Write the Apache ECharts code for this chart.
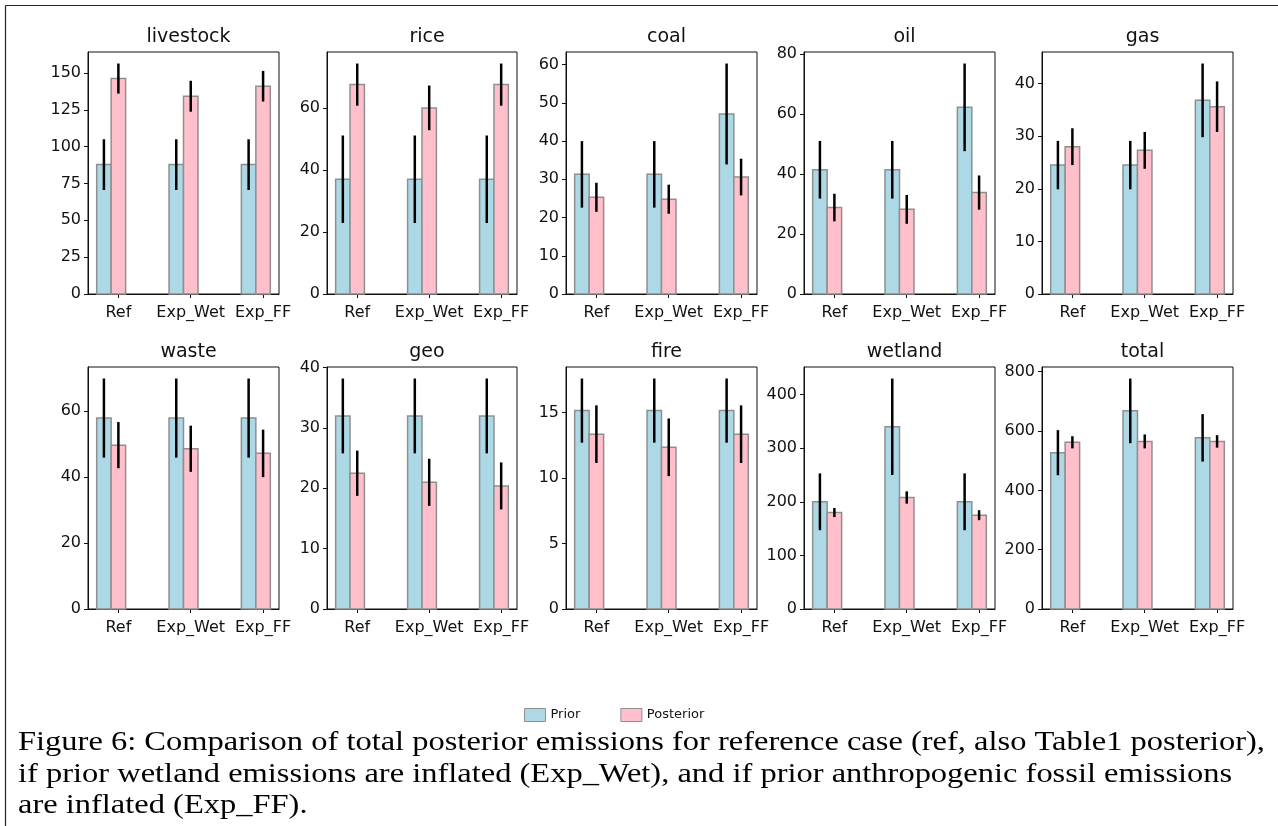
<!DOCTYPE html>
<html><head><meta charset="utf-8">
<script src="https://cdn.jsdelivr.net/npm/echarts@6/dist/echarts.min.js"></script>
<style>html,body{margin:0;padding:0;background:#fff}#c{width:1278px;height:826px}</style>
</head><body><div id="c"></div>
<script>
// ---- data ----
const categories = ['Ref', 'Exp_Wet', 'Exp_FF'];
const sectors = ['livestock', 'rice', 'coal', 'oil', 'gas', 'waste', 'geo', 'fire', 'wetland', 'total'];

const livestockPrior = [87.8, 87.8, 87.8];   const livestockPriorErr = [17.2, 17.2, 17.2];
const livestockPost  = [146.2, 134.2, 141.0]; const livestockPostErr  = [10.2, 10.5, 10.4];
const ricePrior = [37.0, 37.0, 37.0];         const ricePriorErr = [14.1, 14.1, 14.1];
const ricePost  = [67.5, 60.0, 67.5];         const ricePostErr  = [6.8, 7.2, 6.8];
const coalPrior = [31.3, 31.3, 47.1];         const coalPriorErr = [8.7, 8.7, 13.2];
const coalPost  = [25.3, 24.8, 30.6];         const coalPostErr  = [3.8, 3.8, 4.8];
const oilPrior = [41.4, 41.4, 62.2];          const oilPriorErr = [9.6, 9.6, 14.6];
const oilPost  = [28.8, 28.2, 33.8];          const oilPostErr  = [4.6, 4.8, 5.7];
const gasPrior = [24.5, 24.5, 36.8];          const gasPriorErr = [4.6, 4.6, 7.0];
const gasPost  = [28.0, 27.3, 35.6];          const gasPostErr  = [3.5, 3.5, 4.8];
const wastePrior = [57.9, 57.9, 57.9];        const wastePriorErr = [12.0, 12.0, 12.0];
const wastePost  = [49.7, 48.6, 47.2];        const wastePostErr  = [7.0, 7.0, 7.2];
const geoPrior = [32.0, 32.0, 32.0];          const geoPriorErr = [6.2, 6.2, 6.2];
const geoPost  = [22.5, 21.0, 20.4];          const geoPostErr  = [3.75, 3.9, 3.9];
const firePrior = [15.15, 15.15, 15.15];      const firePriorErr = [2.45, 2.45, 2.45];
const firePost  = [13.35, 12.35, 13.35];      const firePostErr  = [2.2, 2.2, 2.2];
const wetlandPrior = [200, 340, 200];         const wetlandPriorErr = [53, 90, 53];
const wetlandPost  = [180, 208, 175];         const wetlandPostErr  = [8.5, 11.5, 9.3];
const totalPrior = [527, 668, 577];           const totalPriorErr = [76, 109, 80];
const totalPost  = [562, 565, 565];           const totalPostErr  = [20.5, 23.5, 21];

const livestockTicks = [0, 25, 50, 75, 100, 125, 150];
const riceTicks = [0, 20, 40, 60];
const coalTicks = [0, 10, 20, 30, 40, 50, 60];
const oilTicks = [0, 20, 40, 60, 80];
const gasTicks = [0, 10, 20, 30, 40];
const wasteTicks = [0, 20, 40, 60];
const geoTicks = [0, 10, 20, 30, 40];
const fireTicks = [0, 5, 10, 15];
const wetlandTicks = [0, 100, 200, 300, 400];
const totalTicks = [0, 200, 400, 600, 800];

const captionLines = [
  'Figure 6: Comparison of total posterior emissions for reference case (ref, also Table1 posterior),',
  'if prior wetland emissions are inflated (Exp_Wet), and if prior anthropogenic fossil emissions',
  'are inflated (Exp_FF).'
];

// ---- build ----
const table = {
  livestock: [livestockPrior, livestockPriorErr, livestockPost, livestockPostErr, livestockTicks],
  rice: [ricePrior, ricePriorErr, ricePost, ricePostErr, riceTicks],
  coal: [coalPrior, coalPriorErr, coalPost, coalPostErr, coalTicks],
  oil: [oilPrior, oilPriorErr, oilPost, oilPostErr, oilTicks],
  gas: [gasPrior, gasPriorErr, gasPost, gasPostErr, gasTicks],
  waste: [wastePrior, wastePriorErr, wastePost, wastePostErr, wasteTicks],
  geo: [geoPrior, geoPriorErr, geoPost, geoPostErr, geoTicks],
  fire: [firePrior, firePriorErr, firePost, firePostErr, fireTicks],
  wetland: [wetlandPrior, wetlandPriorErr, wetlandPost, wetlandPostErr, wetlandTicks],
  total: [totalPrior, totalPriorErr, totalPost, totalPostErr, totalTicks]
};

const lefts = [88, 327, 566, 804, 1042];
const widths = [191, 190, 191, 191, 191];
const tops = [52, 367];
const H = 242;
const FONT = 'DejaVu Sans';
const PRIOR_COLOR = '#ADD8E6', POST_COLOR = '#FFC0CB';

function makeRender(offset) {
  return function (params, api) {
    const x = api.value(0), v = api.value(1), e = api.value(2);
    const p0 = api.coord([x + offset - 0.1, 0]);
    const p1 = api.coord([x + offset + 0.1, v]);
    const t = api.coord([x + offset, v + e]);
    const b = api.coord([x + offset, v - e]);
    return {
      type: 'group',
      children: [
        { type: 'rect', shape: { x: p0[0], y: p1[1], width: p1[0] - p0[0], height: p0[1] - p1[1] },
          style: { fill: api.visual('color'), stroke: '#8f8f8f', lineWidth: 1.5 } },
        { type: 'line', shape: { x1: t[0], y1: t[1], x2: b[0], y2: b[1] },
          style: { stroke: '#000', lineWidth: 2.5 }, z2: 10 }
      ]
    };
  };
}

const grid = [], xAxis = [], yAxis = [], series = [], title = [];
sectors.forEach(function (name, i) {
  const r = Math.floor(i / 5), c = i % 5;
  const d = table[name];
  const prior = d[0], pe = d[1], post = d[2], poe = d[3], ticks = d[4];
  let top = 0;
  for (let k = 0; k < 3; k++) top = Math.max(top, prior[k] + pe[k], post[k] + poe[k]);
  grid.push({ left: lefts[c], top: tops[r], width: widths[c], height: H, show: true,
    borderColor: '#111', borderWidth: 1, backgroundColor: 'transparent' });
  xAxis.push({ type: 'value', gridIndex: i, min: -0.42, max: 2.22,
    splitLine: { show: false },
    axisLine: { show: true, onZero: false, lineStyle: { color: '#111', width: 1 } },
    axisTick: { show: true, length: 4, customValues: [0, 1, 2], lineStyle: { color: '#111' } },
    axisLabel: { customValues: [0, 1, 2], margin: 11, color: '#111', fontFamily: FONT, fontSize: 16,
      formatter: function (v) { return categories[Math.round(v)]; } } });
  yAxis.push({ type: 'value', gridIndex: i, min: 0, max: top * 1.05,
    splitLine: { show: false },
    axisLine: { show: true, onZero: false, lineStyle: { color: '#111', width: 1 } },
    axisTick: { show: true, length: 4, customValues: ticks, lineStyle: { color: '#111' } },
    axisLabel: { customValues: ticks, margin: 7, color: '#111', fontFamily: FONT, fontSize: 16,
      formatter: function (v) { return String(v); } } });
  title.push({ text: name, left: lefts[c] + widths[c] / 2, top: r === 0 ? 23 : 338, textAlign: 'center',
    textStyle: { fontFamily: FONT, fontSize: 19, fontWeight: 'normal', color: '#111' } });
  series.push({ type: 'custom', name: 'Prior', xAxisIndex: i, yAxisIndex: i,
    itemStyle: { color: PRIOR_COLOR, borderColor: '#8f8f8f', borderWidth: 1 },
    renderItem: makeRender(-0.2),
    data: categories.map(function (_, k) { return [k, prior[k], pe[k]]; }) });
  series.push({ type: 'custom', name: 'Posterior', xAxisIndex: i, yAxisIndex: i,
    itemStyle: { color: POST_COLOR, borderColor: '#8f8f8f', borderWidth: 1 },
    renderItem: makeRender(0),
    data: categories.map(function (_, k) { return [k, post[k], poe[k]]; }) });
});

const graphic = [
  { type: 'line', shape: { x1: 5.5, y1: 5.5, x2: 1278, y2: 5.5 }, style: { stroke: '#222', lineWidth: 1.2 } },
  { type: 'line', shape: { x1: 5.5, y1: 5.5, x2: 5.5, y2: 826 }, style: { stroke: '#222', lineWidth: 1.2 } }
];
const capY = [743, 775, 806];
captionLines.forEach(function (t, k) {
  graphic.push({ type: 'text', x: 18, y: capY[k], scaleX: 1.16, scaleY: 1,
    style: { text: t, fill: '#000', font: '28px "Liberation Serif"', textVerticalAlign: 'middle' } });
});

const chart = echarts.init(document.getElementById('c'), null, { renderer: 'canvas' });
chart.setOption({
  backgroundColor: '#fff',
  animation: false,
  title: title,
  legend: { data: ['Prior', 'Posterior'], left: 519, top: 703, icon: 'rect', itemWidth: 21, itemHeight: 13,
    itemGap: 40, textStyle: { fontFamily: FONT, fontSize: 13, color: '#111' },
    itemStyle: { borderColor: '#8f8f8f', borderWidth: 1 } },
  grid: grid, xAxis: xAxis, yAxis: yAxis, series: series, graphic: graphic
});
</script></body></html>
